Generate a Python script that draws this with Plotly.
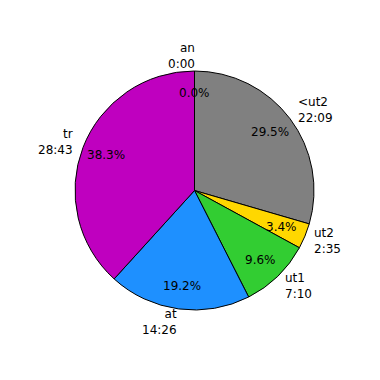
import math
import plotly.graph_objects as go

labels = ["an", "<ut2", "ut2", "ut1", "at", "tr"]
times = ["0:00", "22:09", "2:35", "7:10", "14:26", "28:43"]
seconds = [0, 1329, 155, 430.5, 866, 1723]
colors = ["#FF0000", "#808080", "#FFD700", "#32CD32", "#1E90FF", "#BF00BF"]

W = H = 380
CX, CY = 194.5, 190.5   # pixel centre (from top-left)
R = 119.5               # pie radius (plotly pies are circular)
RX, RY = 118.0, 121.5   # radii used for text placement
LABEL_DIST = 1.1
PCT_DIST = 0.8
YSHIFT = 0.5

fig = go.Figure(go.Pie(
    labels=labels,
    values=seconds,
    sort=False,
    direction="clockwise",
    rotation=0,
    textinfo="none",
    hoverinfo="skip",
    marker=dict(colors=colors, line=dict(color="black", width=1)),
    domain=dict(x=[(CX - R) / W, (CX + R) / W],
                y=[(H - CY - R) / H, (H - CY + R) / H]),
    showlegend=False,
))

total = sum(seconds)
cum = 0.0
font = dict(family="DejaVu Sans", size=12, color="black")
annotations = []
for lab, t, v in zip(labels, times, seconds):
    frac = v / total
    mid = cum + frac / 2
    cum += frac
    th = math.radians(90 - 360 * mid)
    c, s = math.cos(th), math.sin(th)
    lx = CX + LABEL_DIST * RX * c
    ly = CY - LABEL_DIST * RY * s - YSHIFT
    anchor = "left" if c > 1e-6 else "right"
    annotations.append(dict(
        x=lx / W, y=1 - ly / H, xref="paper", yref="paper",
        text=f"{lab}<br>{t}", showarrow=False, xanchor=anchor,
        yanchor="middle", align=anchor, font=font,
        borderpad=0, borderwidth=0))
    px = CX + PCT_DIST * RX * c
    py = CY - PCT_DIST * RY * s - YSHIFT
    annotations.append(dict(
        x=px / W, y=1 - py / H, xref="paper", yref="paper",
        text=f"{100 * frac:.1f}%", showarrow=False, xanchor="center",
        yanchor="middle", font=font, borderpad=0, borderwidth=0))

fig.update_layout(
    width=W, height=H,
    margin=dict(l=0, r=0, t=0, b=0),
    paper_bgcolor="white",
    plot_bgcolor="white",
    annotations=annotations,
)

fig.write_html("out.html")
